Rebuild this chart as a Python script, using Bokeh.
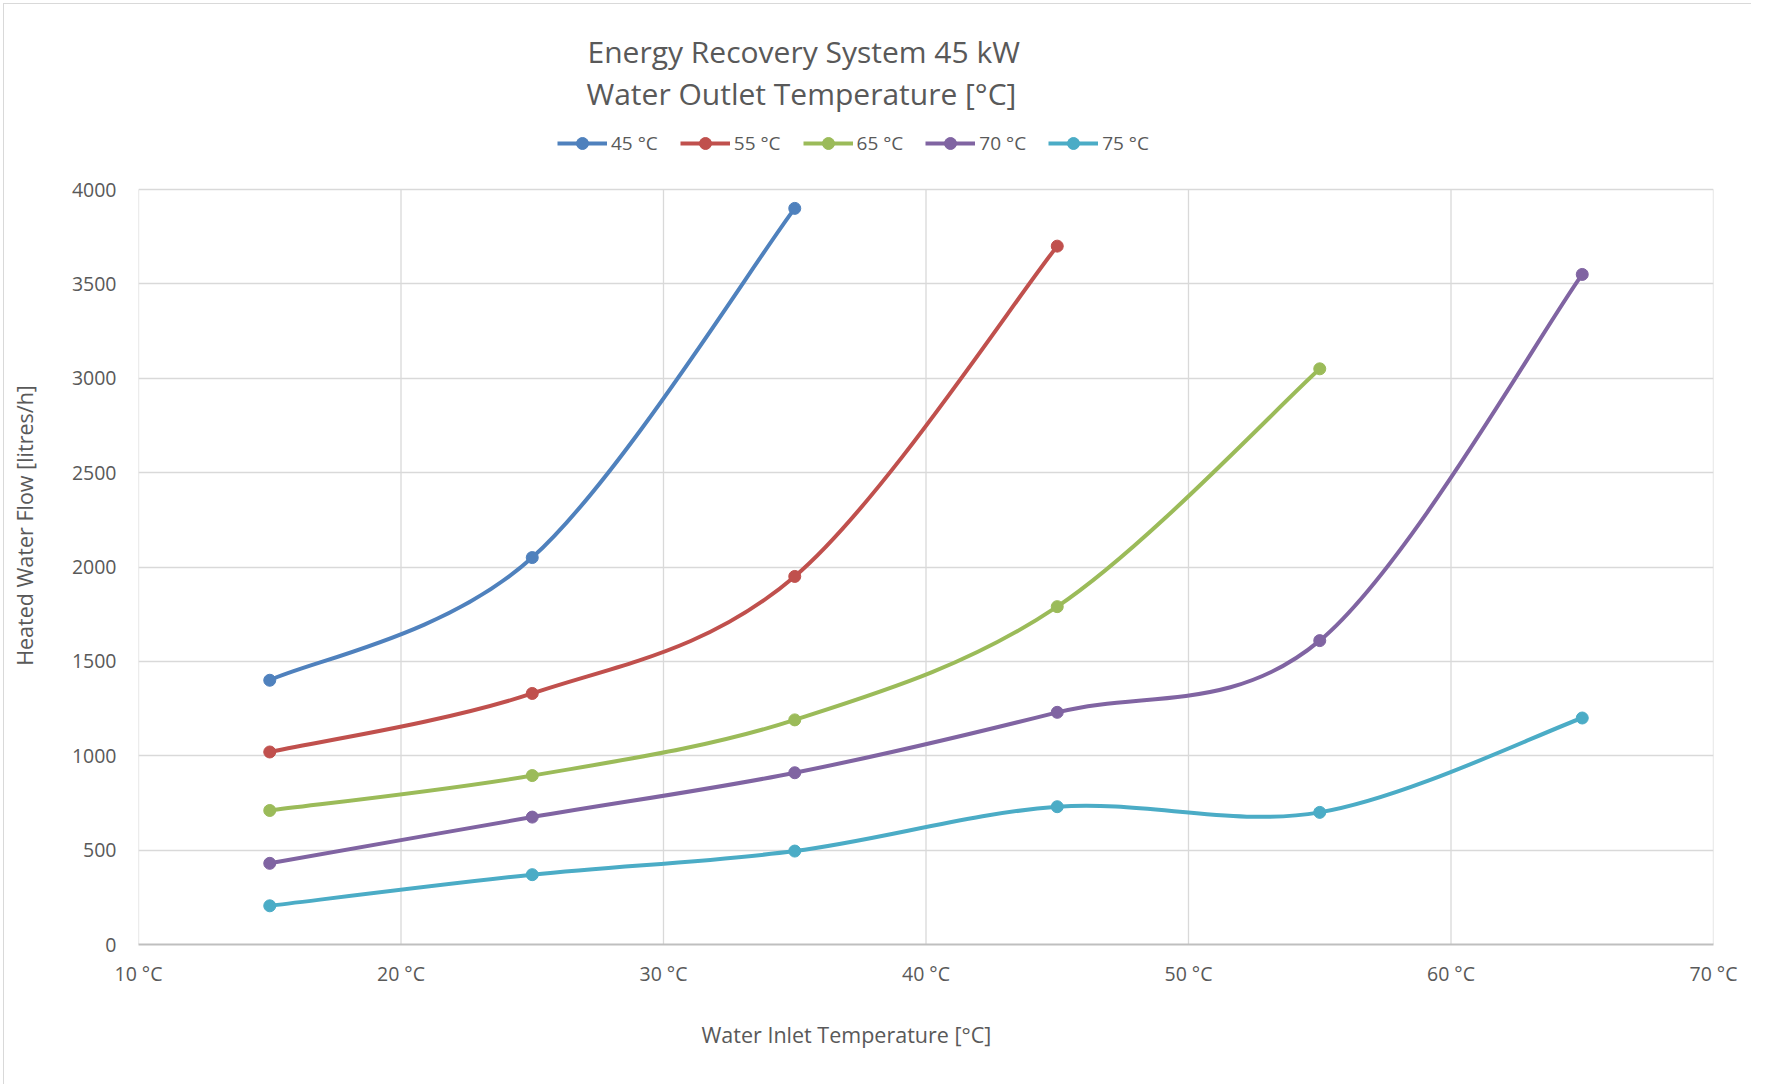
import math
from bokeh.plotting import figure
from bokeh.models import (Title, Legend, LegendItem, FixedTicker,
                          PrintfTickFormatter, ColumnDataSource)
from bokeh.embed import file_html
from bokeh.resources import INLINE

# ---- data ----
series_names = ["45 °C", "55 °C", "65 °C", "70 °C", "75 °C"]
inlet_temps = [15, 25, 35, 45, 55, 65]
flow_45 = [1400, 2050, 3900]
flow_55 = [1020, 1330, 1950, 3700]
flow_65 = [710, 895, 1190, 1790, 3050]
flow_70 = [430, 675, 910, 1230, 1610, 3550]
flow_75 = [205, 370, 495, 730, 700, 1200]
x_ticks = [10, 20, 30, 40, 50, 60, 70]
y_ticks = [0, 500, 1000, 1500, 2000, 2500, 3000, 3500, 4000]

colors = ["#4F81BD", "#C0504D", "#9BBB59", "#8064A2", "#4BACC6"]
all_flows = [flow_45, flow_55, flow_65, flow_70, flow_75]

FONT = "Open Sans"
TXT = "#595959"
GRID = "#d9d9d9"

# layout (pixels)
W, H = 1751, 1084
FRAME_L, FRAME_R, PLOT_TOP, FRAME_B = 138, 1713, 189, 944
YLABEL_CENTER = 525
FRAME_T = 2 * YLABEL_CENTER - FRAME_B   # frame is extended upwards so the legend sits inside
y_max = y_ticks[-1]
px_per_unit = (FRAME_B - PLOT_TOP) / y_max
y_top = (FRAME_B - FRAME_T) / px_per_unit

p = figure(width=W, height=H, x_range=(x_ticks[0], x_ticks[-1]), y_range=(0, y_top),
           output_backend="svg", toolbar_location=None, title=None,
           min_border_left=FRAME_L, min_border_right=W - FRAME_R, min_border_top=FRAME_T,
           min_border_bottom=H - FRAME_B)
p.outline_line_color = None
p.background_fill_color = None
p.border_fill_color = None
# thin light-grey chart-area border along the left and top edges
p.stylesheets = [":host { box-shadow: inset 3px 3px 0 0 #ffffff, inset 4px 4px 0 0 #d9d9d9; background: #ffffff; }"]

p.xgrid.visible = False
p.ygrid.grid_line_color = GRID
p.ygrid.grid_line_width = 1.3
# vertical grid lines limited to the value range of the plot
p.segment(x0=x_ticks, y0=[y_ticks[0]] * len(x_ticks), x1=x_ticks,
          y1=[y_max] * len(x_ticks), line_color=GRID, line_width=1.3, level="underlay")

p.xaxis.ticker = FixedTicker(ticks=x_ticks)
p.yaxis.ticker = FixedTicker(ticks=y_ticks)
p.yaxis.bounds = (0, y_max)
p.xaxis.formatter = PrintfTickFormatter(format="%d °C")
for ax in (p.xaxis, p.yaxis):
    ax.major_tick_line_color = None
    ax.minor_tick_line_color = None
    ax.major_tick_out = 0
    ax.major_tick_in = 0
    ax.major_label_text_font = FONT
    ax.major_label_text_font_size = "19.5px"
    ax.major_label_text_color = TXT
p.xaxis.axis_line_color = "#bfbfbf"
p.xaxis.axis_line_width = 2
p.yaxis.axis_line_color = None
p.yaxis.major_label_standoff = 22
p.xaxis.major_label_standoff = 15

p.yaxis.axis_label = "Heated Water Flow [litres/h]"
p.yaxis.axis_label_standoff = 30
p.yaxis.axis_label_text_font = FONT
p.yaxis.axis_label_text_font_size = "21.5px"
p.yaxis.axis_label_text_font_style = "normal"
p.yaxis.axis_label_text_color = TXT


def bezier_segments(xs, ys):
    n = len(xs)
    out = dict(x0=[], y0=[], x1=[], y1=[], cx0=[], cy0=[], cx1=[], cy1=[])
    for i in range(n - 1):
        xm = xs[i - 1] if i > 0 else xs[i]
        ym = ys[i - 1] if i > 0 else ys[i]
        xp2 = xs[i + 2] if i + 2 < n else xs[i + 1]
        yp2 = ys[i + 2] if i + 2 < n else ys[i + 1]
        out["x0"].append(xs[i]); out["y0"].append(ys[i])
        out["x1"].append(xs[i + 1]); out["y1"].append(ys[i + 1])
        out["cx0"].append(xs[i] + (xs[i + 1] - xm) / 6.0)
        out["cy0"].append(ys[i] + (ys[i + 1] - ym) / 6.0)
        out["cx1"].append(xs[i + 1] - (xp2 - xs[i]) / 6.0)
        out["cy1"].append(ys[i + 1] - (yp2 - ys[i]) / 6.0)
    return out


items = []
for name, col, fl in zip(series_names, colors, all_flows):
    xs = inlet_temps[:len(fl)]
    src = ColumnDataSource(bezier_segments(xs, fl))
    r1 = p.bezier(x0="x0", y0="y0", x1="x1", y1="y1", cx0="cx0", cy0="cy0",
                  cx1="cx1", cy1="cy1", source=src, line_color=col, line_width=4)
    r2 = p.scatter(xs, fl, size=12, fill_color=col, line_color=col, marker="circle")
    items.append(LegendItem(label=name, renderers=[r1, r2]))

legend = Legend(items=items, orientation="horizontal", location=(419, 786),
                glyph_width=50, glyph_height=30, label_standoff=4, spacing=22,
                padding=0, margin=0, border_line_color=None,
                background_fill_alpha=0, label_text_font=FONT,
                label_text_font_size="19px", label_text_color=TXT)
p.add_layout(legend, "center")

t2 = Title(text="Water Outlet Temperature [°C]", align="left", offset=448,
           standoff=-15, text_font=FONT, text_font_size="30px",
           text_color=TXT, text_font_style="normal")
p.add_layout(t2, "above")
t1 = Title(text="Energy Recovery System 45 kW", align="left", offset=449,
           standoff=13, text_font=FONT, text_font_size="30px",
           text_color=TXT, text_font_style="normal")
p.add_layout(t1, "above")

xt = Title(text="Water Inlet Temperature [°C]", align="left", offset=563,
           standoff=56, text_font=FONT, text_font_size="21.5px",
           text_color=TXT, text_font_style="normal")
p.add_layout(xt, "below")

open("out.html", "w").write(file_html(p, INLINE))
